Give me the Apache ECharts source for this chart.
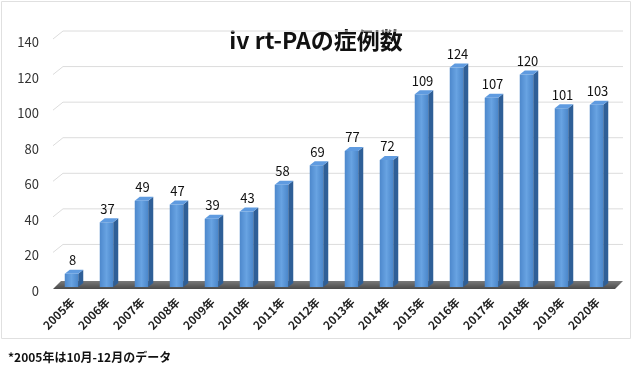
<!DOCTYPE html>
<html><head><meta charset="utf-8">
<script src="https://cdn.jsdelivr.net/npm/echarts@6/dist/echarts.min.js"></script>
<style>html,body{margin:0;padding:0;background:#fff}#c{width:640px;height:366px}</style>
</head><body><div id="c"></div>
<script>
var categories = ['2005年','2006年','2007年','2008年','2009年','2010年','2011年','2012年','2013年','2014年','2015年','2016年','2017年','2018年','2019年','2020年'];
var values = [8,37,49,47,39,43,58,69,77,72,109,124,107,120,101,103];
var yTicks = [20,40,60,80,100,120,140];
var titleText = 'iv rt-PAの症例数';
var noteText = '*2005年は10月-12月のデータ';

var FONT = '"Noto Sans CJK JP","Noto Sans",sans-serif';
var chart = echarts.init(document.getElementById('c'));

function gridItem(params, api) {
  var v = api.value(0);
  var left = api.coord([0, v]);
  var x0 = params.coordSys.x - 2, y = left[1];
  var xr = params.coordSys.x + params.coordSys.width + 8;
  return {type:'polyline', shape:{points:[[x0,y],[x0+10,y-8],[xr,y-8]]},
    style:{stroke:'#dcdcdc', lineWidth:1, fill:null}, silent:true};
}
function floorItem(params, api) {
  var cs = params.coordSys;
  var y = api.coord([0, 0])[1];
  var x0 = cs.x - 2, x1 = cs.x + cs.width;
  return {type:'polygon', shape:{points:[[x0,y+1],[x0+8,y-7],[x1+8,y-7],[x1,y+1]]},
    style:{fill:new echarts.graphic.LinearGradient(0,0,0,1,[{offset:0,color:'#7a7a7a'},{offset:1,color:'#4a4a4a'}])}, silent:true};
}
function barItem(params, api) {
  var idx = api.value(0), v = api.value(1);
  var top = api.coord([idx, v]);
  var base = api.coord([idx, 0]);
  var w = 13.5, dx = 5, dy = 4;
  var xl = top[0] - w/2 - 1, xr = xl + w;
  var yt = top[1], yb = base[1] - 1;
  return {type:'group', children:[
    {type:'rect', shape:{x:xl, y:yt, width:w, height:yb-yt},
      style:{fill:new echarts.graphic.LinearGradient(0,0,1,0,[{offset:0,color:'#4d88cc'},{offset:0.5,color:'#68a3e2'},{offset:1,color:'#4a86ca'}])}},
    {type:'polygon', shape:{points:[[xr,yt],[xr+dx,yt-dy],[xr+dx,yb-dy],[xr,yb]]},
      style:{fill:'#2f5f97'}},
    {type:'polygon', shape:{points:[[xl,yt],[xl+dx,yt-dy],[xr+dx,yt-dy],[xr,yt]]},
      style:{fill:'#5f9be0'}},
    {type:'text', x:xl + w/2 + 1, y:yt - dy - 3,
      style:{text:String(v), fill:'#111', font:'13px ' + FONT, align:'center', verticalAlign:'bottom'}}
  ]};
}

chart.setOption({
  animation:false,
  graphic:[
    {type:'rect', shape:{x:1.5,y:1.5,width:629,height:337}, style:{fill:null, stroke:'#e0e0e0', lineWidth:1}, silent:true},
    {type:'text', x:316, y:40, style:{text:titleText, font:'bold 23px ' + FONT, fill:'#111', align:'center', verticalAlign:'middle'}},
    {type:'text', x:8, y:357, style:{text:noteText, font:'bold 12px ' + FONT, fill:'#111', verticalAlign:'middle'}}
  ],
  grid:{left:55, right:25, top:39, bottom:78},
  xAxis:{type:'category', data:categories, boundaryGap:true,
    axisLine:{show:false}, axisTick:{show:false},
    axisLabel:{rotate:45, interval:0, margin:12, color:'#222', fontWeight:'bold', fontSize:11.5, fontFamily:FONT}},
  yAxis:{type:'value', min:0, max:140, interval:20,
    splitLine:{show:false}, axisLine:{show:false}, axisTick:{show:false},
    axisLabel:{margin:16, formatter:'{a|{value}}',
      rich:{a:{color:'#333', fontSize:13, fontFamily:FONT, padding:[6,0,0,0]}}}},
  series:[
    {type:'custom', renderItem:gridItem, data:yTicks.map(function(t){return [t];}), encode:{y:0}, z:1, silent:true, clip:false},
    {type:'custom', renderItem:floorItem, data:[[0]], z:2, silent:true, clip:false},
    {type:'custom', renderItem:barItem, data:values.map(function(v,i){return [i,v];}), encode:{x:0,y:1}, z:3, clip:false}
  ]
});
</script></body></html>
